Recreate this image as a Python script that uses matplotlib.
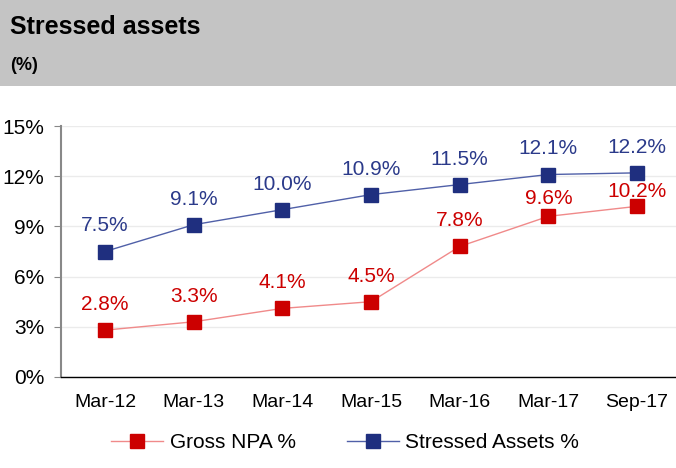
import matplotlib
matplotlib.use("Agg")
import matplotlib.pyplot as plt
from matplotlib.patches import Rectangle

categories = ["Mar-12", "Mar-13", "Mar-14", "Mar-15", "Mar-16", "Mar-17", "Sep-17"]
gross_npa = [2.8, 3.3, 4.1, 4.5, 7.8, 9.6, 10.2]
stressed = [7.5, 9.1, 10.0, 10.9, 11.5, 12.1, 12.2]
yticks = [0, 3, 6, 9, 12, 15]

plt.rcParams['font.family'] = ['Liberation Sans', 'DejaVu Sans']

W, H = 676, 468
fig = plt.figure(figsize=(W / 100, H / 100), dpi=100)

# header band
fig.patches.append(Rectangle((0, 1 - 86 / H), 1, 86 / H, transform=fig.transFigure,
                             facecolor="#C4C4C4", edgecolor="none", zorder=0))
fig.text(10 / W, 1 - 27 / H, "Stressed assets", fontsize=18, fontweight="bold",
         va="center", ha="left", color="black")
fig.text(10 / W, 1 - 66 / H, "(%)", fontsize=13, fontweight="bold",
         va="center", ha="left", color="black")

left, right = 61 / W, 676 / W
bottom, top = (H - 377) / H, (H - 126) / H
ax = fig.add_axes([left, bottom, right - left, top - bottom])

x = list(range(len(categories)))
red = "#CC0000"
navy = "#1F2F7F"

ax.plot(x, gross_npa, color="#F08A8A", lw=1, marker="s", markersize=10.5,
        markerfacecolor=red, markeredgecolor=red, label="Gross NPA %", zorder=3)
ax.plot(x, stressed, color="#5060A8", lw=1, marker="s", markersize=10.5,
        markerfacecolor=navy, markeredgecolor=navy, label="Stressed Assets %", zorder=3)

# label offsets (points) — crowded labels sit lower, as in the reference
red_off = [18.4, 18.4, 18.4, 18.4, 18.4, 12.6, 10.4]
blue_off = [18.4] * 7
for xi, v, o in zip(x, gross_npa, red_off):
    ax.annotate(f"{v:.1f}%", (xi, v), xytext=(0, o), textcoords="offset points",
                ha="center", va="center", fontsize=15, color=red, zorder=4)
for xi, v, o in zip(x, stressed, blue_off):
    ax.annotate(f"{v:.1f}%", (xi, v), xytext=(0, o), textcoords="offset points",
                ha="center", va="center", fontsize=15, color="#2B3A8A", zorder=4)

scale = (637 - 105) / 6
ax.set_xlim(-(105 - 61) / scale, 6 + (676 - 637) / scale)
ax.set_ylim(0, 15)
ax.set_xticks(x)
ax.set_xticklabels(categories)
ax.set_yticks(yticks)
ax.set_yticklabels([f"{t}%" for t in yticks])
ax.tick_params(axis="x", length=0, labelsize=14, pad=12)
ax.tick_params(axis="y", length=5, color="#888888", labelsize=15, pad=7)
ax.grid(axis="y", color="#EBEBEB", lw=1)
ax.set_axisbelow(True)
for s in ["top", "right"]:
    ax.spines[s].set_visible(False)
ax.spines["left"].set_color("#888888")
ax.spines["left"].set_linewidth(1.5)
ax.spines["bottom"].set_color("black")
ax.spines["bottom"].set_linewidth(1)

leg = fig.legend(loc="center", bbox_to_anchor=(345 / W, (H - 443) / H), ncol=2,
                 frameon=False, fontsize=15, handlelength=2.5, columnspacing=2.45,
                 handletextpad=0.3, markerscale=0.9)

fig.savefig("out.png", dpi=100)
